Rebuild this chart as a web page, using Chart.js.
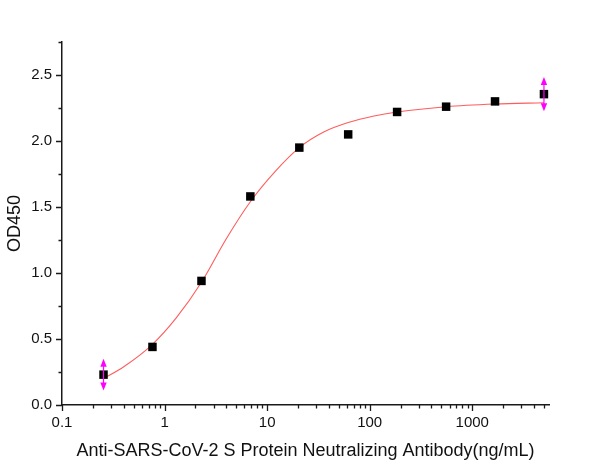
<!DOCTYPE html>
<html>
<head>
<meta charset="utf-8">
<script src="https://cdn.jsdelivr.net/npm/chart.js@4"></script>
<style>
  html, body { margin: 0; padding: 0; background: #fff; }
  #wrap { width: 600px; height: 469px; }
</style>
</head>
<body>
<div id="wrap"><canvas id="od-chart"></canvas></div>
<script>
// measured points (3-fold dilution series)
const concentrations = [0.254, 0.762, 2.29, 6.86, 20.6, 61.7, 185, 556, 1667, 5000];
const od450 = [0.23, 0.44, 0.94, 1.58, 1.95, 2.05, 2.22, 2.26, 2.30, 2.355];
const od450Err = [0.12, 0, 0, 0, 0, 0, 0, 0, 0, 0.13];

// fitted curve
const fitX = [0.254, 0.4, 0.762, 1.3, 2.29, 4, 6.86, 12, 20.6, 36, 61.7, 110, 185, 556, 1667, 5000];
const fitY = [0.20, 0.29, 0.46, 0.66, 0.93, 1.26, 1.54, 1.77, 1.95, 2.07, 2.14, 2.19, 2.22, 2.26, 2.28, 2.29];

const xTickValues = [0.1, 1, 10, 100, 1000];
const xTickLabels = ['0.1', '1', '10', '100', '1000'];
const yTickValues = [0, 0.5, 1.0, 1.5, 2.0, 2.5];
const yTickLabels = ['0.0', '0.5', '1.0', '1.5', '2.0', '2.5'];

const axisColor = '#1a1a1a';
const font = 'Liberation Sans';

// origin-style tick marks: long majors, short minors, pointing outwards
const tickMarks = {
  id: 'tickMarks',
  afterDraw(chart) {
    const ctx = chart.ctx;
    const xs = chart.scales.x;
    const ys = chart.scales.y;
    ctx.save();
    ctx.strokeStyle = axisColor;
    ctx.lineWidth = 1.3;
    ctx.beginPath();
    for (let d = 0.1; d < xs.max; d *= 10) {
      for (let k = 1; k <= 9; k++) {
        const v = k * d;
        if (v > xs.max * 1.0001) break;
        const px = Math.round(xs.getPixelForValue(v)) + 0.5;
        const len = k === 1 ? 6 : 3.5;
        ctx.moveTo(px, xs.top);
        ctx.lineTo(px, xs.top + len);
      }
    }
    for (let i = 0; i <= 11; i++) {
      const v = i * 0.25;
      const py = Math.round(ys.getPixelForValue(v)) + 0.5;
      const len = i % 2 === 0 ? 6 : 3.5;
      ctx.moveTo(ys.right, py);
      ctx.lineTo(ys.right - len, py);
    }
    ctx.stroke();
    ctx.restore();
  }
};

function arrowHead(ctx, x, yTip, dir) {
  ctx.beginPath();
  ctx.moveTo(x, yTip);
  ctx.lineTo(x - 3.2, yTip + dir * 8);
  ctx.lineTo(x + 3.2, yTip + dir * 8);
  ctx.closePath();
  ctx.fill();
}

const errorBars = {
  id: 'errorBars',
  afterDatasetsDraw(chart) {
    const ctx = chart.ctx;
    const xs = chart.scales.x;
    const ys = chart.scales.y;
    ctx.save();
    ctx.strokeStyle = '#ff00ff';
    ctx.fillStyle = '#ff00ff';
    ctx.lineWidth = 1.2;
    for (let i = 0; i < concentrations.length; i++) {
      const e = od450Err[i];
      if (!e) continue;
      const px = xs.getPixelForValue(concentrations[i]);
      const top = ys.getPixelForValue(od450[i] + e);
      const bot = ys.getPixelForValue(od450[i] - e);
      ctx.beginPath();
      ctx.moveTo(px, top + 4);
      ctx.lineTo(px, bot - 4);
      ctx.stroke();
      arrowHead(ctx, px, top, 1);
      arrowHead(ctx, px, bot, -1);
    }
    ctx.restore();
  }
};

function initialiseChart() {
  const ctx = document.getElementById('od-chart');

  const data = {
    datasets: [{
      label: 'Fit',
      data: fitX.map((x, i) => ({ x: x, y: fitY[i] })),
      showLine: true,
      borderColor: '#ff5c5c',
      borderWidth: 1.1,
      pointRadius: 0,
      cubicInterpolationMode: 'monotone',
      order: 2
    }, {
      label: 'OD450',
      data: concentrations.map((x, i) => ({ x: x, y: od450[i] })),
      showLine: false,
      pointStyle: 'rect',
      pointRadius: 6,
      backgroundColor: '#000',
      borderColor: '#000',
      borderWidth: 0,
      order: 1
    }]
  };

  const config = {
    type: 'scatter',
    data: data,
    options: {
      responsive: true,
      maintainAspectRatio: false,
      animation: false,
      layout: {
        padding: { left: 0, right: 51, top: 42, bottom: 0 }
      },
      plugins: {
        legend: { display: false },
        tooltip: { enabled: false }
      },
      scales: {
        x: {
          type: 'logarithmic',
          min: 0.1,
          max: 5600,
          afterBuildTicks: (scale) => {
            scale.ticks = xTickValues.map(v => ({ value: v }));
          },
          afterFit: (scale) => { scale.height = 64; },
          grid: { display: false, drawTicks: false },
          border: { display: true, color: axisColor, width: 1.5 },
          ticks: {
            autoSkip: false,
            maxRotation: 0,
            padding: 9,
            color: '#111',
            font: { family: font, size: 15 },
            callback: (value, index) => xTickLabels[index]
          },
          title: {
            display: true,
            text: 'Anti-SARS-CoV-2 S Protein Neutralizing Antibody(ng/mL)',
            color: '#111',
            font: { family: font, size: 18 },
            padding: { top: 0, bottom: 7 }
          }
        },
        y: {
          min: 0,
          max: 2.75,
          afterBuildTicks: (scale) => {
            scale.ticks = yTickValues.map(v => ({ value: v }));
          },
          afterFit: (scale) => { scale.width = 62; },
          grid: { display: false, drawTicks: false },
          border: { display: true, color: axisColor, width: 1.5 },
          ticks: {
            padding: 10,
            color: '#111',
            font: { family: font, size: 15 },
            callback: (value, index) => yTickLabels[index]
          },
          title: {
            display: true,
            text: 'OD450',
            color: '#111',
            font: { family: font, size: 18 },
            padding: { top: 4, bottom: 0 }
          }
        }
      }
    },
    plugins: [tickMarks, errorBars]
  };

  new Chart(ctx, config);
}

initialiseChart();
</script>
</body>
</html>
